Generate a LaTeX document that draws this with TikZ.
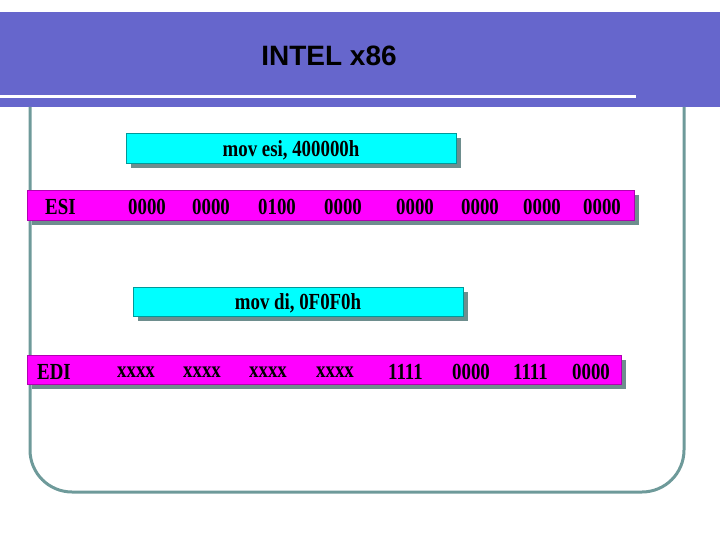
\documentclass[tikz,border=0pt]{standalone}
\usepackage{fontspec}
\setmainfont{Liberation Serif}[FakeStretch=0.82]
\newfontfamily\titlefont{Liberation Sans}
\definecolor{band}{HTML}{6666CC}
\definecolor{frame}{HTML}{6E9A9A}
\definecolor{shadowc}{HTML}{6E8E8E}
\definecolor{cyanc}{HTML}{00FFFF}
\definecolor{magc}{HTML}{FF00FF}
\begin{document}
\begin{tikzpicture}[x=1pt,y=-1pt,
  cbox/.style={fill=cyanc, draw=cyanc!60!black, line width=0.5pt},
  mbox/.style={fill=magc, draw=magc!70!black, line width=0.5pt},
  shad/.style={fill=shadowc},
  txt/.style={font=\bfseries\fontsize{23}{25}\selectfont, inner sep=0pt, anchor=west}]
\useasboundingbox (0,0) rectangle (720,540);
% title band
\fill[band] (0,12) rectangle (720,107);
\fill[white] (0,95) rectangle (636,98);
\node[font=\titlefont\bfseries\fontsize{28}{30}\selectfont] (title) at (329,56) {INTEL x86};
% frame
\draw[frame, line width=3pt, rounded corners=42pt] (30,107) -- (30,492) -- (684,492) -- (684,107);
% box 1
\fill[shad] (131,138) rectangle (461,168);
\draw[cbox] (126,133) rectangle (456,163);
\node[txt, anchor=center] (m1) at (291,150) {mov esi, 400000h};
% ESI
\fill[shad] (32,195) rectangle (639,225);
\draw[mbox] (27,190) rectangle (634,220);
\node[txt] (esi) at (45,207) {ESI};
\foreach \x/\t in {128/0000,192/0000,258/0100,324/0000,396/0000,461/0000,523/0000,583/0000}
  \node[txt] at (\x,207) {\t};
% box 2
\fill[shad] (138,292) rectangle (468,321);
\draw[cbox] (133,287) rectangle (463,316);
\node[txt, anchor=center] (m2) at (298,303) {mov di, 0F0F0h};
% EDI
\fill[shad] (32,360) rectangle (626,389);
\draw[mbox] (27,355) rectangle (621,384);
\node[txt] (edi) at (37,372) {EDI};
\foreach \x/\t in {117/xxxx,183/xxxx,249/xxxx,316/xxxx,388/1111,452/0000,513/1111,572/0000}
  \node[txt] at (\x,372) {\t};
\end{tikzpicture}
\end{document}
